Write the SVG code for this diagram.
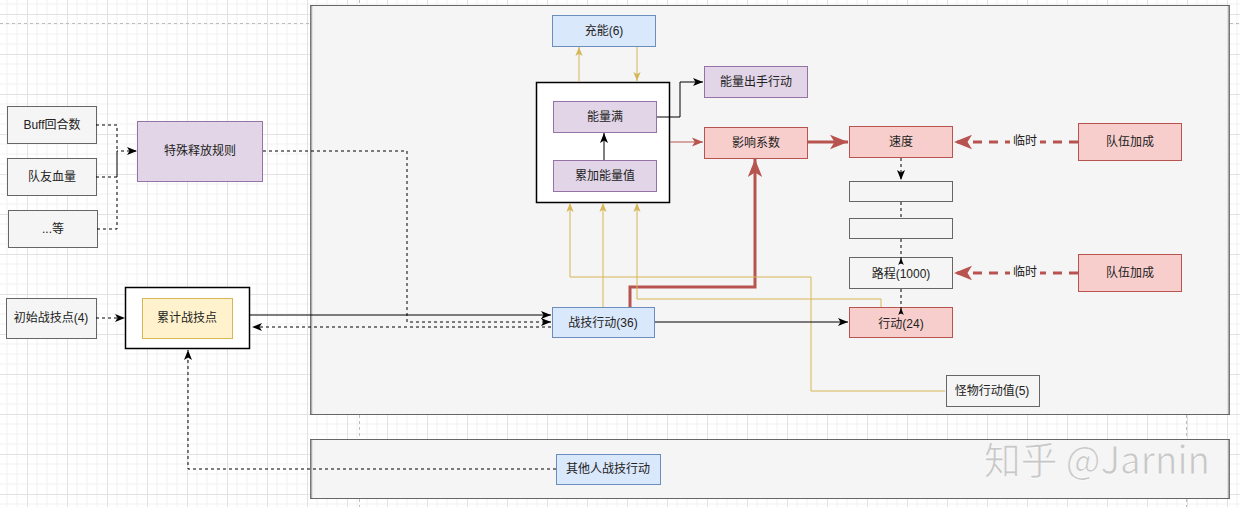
<svg xmlns="http://www.w3.org/2000/svg" width="1240" height="507" viewBox="0 0 1240 507">
<style>
text{font-family:"Liberation Sans","Noto Sans CJK SC",sans-serif;font-size:12px;fill:#222;text-anchor:middle;dominant-baseline:central}
.grey{fill:#f5f5f5;stroke:#666;stroke-width:1}
.purple{fill:#e1d5e7;stroke:#9673a6;stroke-width:1}
.blue{fill:#dae8fc;stroke:#6c8ebf;stroke-width:1}
.red{fill:#f8cecc;stroke:#b85450;stroke-width:1}
.yellow{fill:#fff2cc;stroke:#d6b656;stroke-width:1}
.frame{fill:#fff;stroke:#000;stroke-width:1.5}
.e{fill:none;stroke:#000;stroke-width:1}
.d{stroke-dasharray:3 3}
.y{fill:none;stroke:#d6b656;stroke-width:1}
.r{fill:none;stroke:#b85450}
</style>
<defs>
<pattern id="grid" patternUnits="userSpaceOnUse" x="27" y="14" width="40" height="40">
<path d="M10 0V40M20 0V40M30 0V40M0 10H40M0 20H40M0 30H40" stroke="#f1f1f1" stroke-width="1" fill="none"/>
<path d="M0.5 0V40M0 0.5H40" stroke="#e2e2e2" stroke-width="1" fill="none"/>
</pattern>
<marker id="ab" markerUnits="userSpaceOnUse" markerWidth="10" markerHeight="10" viewBox="0 0 10 10" refX="10" refY="5" orient="auto"><path d="M0,1 L10,5 L0,9 L2.5,5 z" fill="#000"/></marker>
<marker id="abs" markerUnits="userSpaceOnUse" markerWidth="7" markerHeight="7" viewBox="0 0 10 10" refX="10" refY="5" orient="auto"><path d="M0,1 L10,5 L0,9 L2.5,5 z" fill="#000"/></marker>
<marker id="ay" markerUnits="userSpaceOnUse" markerWidth="9" markerHeight="9" viewBox="0 0 10 10" refX="10" refY="5" orient="auto"><path d="M0,1 L10,5 L0,9 L2.5,5 z" fill="#d6b656"/></marker>
<marker id="ar" markerUnits="userSpaceOnUse" markerWidth="11" markerHeight="11" viewBox="0 0 10 10" refX="10" refY="5" orient="auto"><path d="M0,1 L10,5 L0,9 L2.5,5 z" fill="#b85450"/></marker>
<marker id="arb" markerUnits="userSpaceOnUse" markerWidth="18" markerHeight="18" viewBox="0 0 10 10" refX="10" refY="5" orient="auto"><path d="M0,1 L10,5 L0,9 L2.5,5 z" fill="#b85450"/></marker>
</defs>
<rect width="1240" height="507" fill="#fff"/>
<rect width="1240" height="507" fill="url(#grid)"/>
<g id="page-breaks" stroke="#bdbdbd" stroke-width="1" stroke-dasharray="3 3" fill="none">
<path d="M0 23.5H310M1230 23.5H1240"/>
<path d="M359.5 0V5M359.5 415V439M359.5 499V507"/>
<path d="M1186.5 415V439M1186.5 499V507"/>
</g>
<g id="container-main"><rect x="310.5" y="5.5" width="919" height="409" fill="#f5f5f5" stroke="#666"/><path d="M311.5 6V414M1228.5 6V414" stroke="#aaa" stroke-width="1.5"/></g>
<g id="container-bottom"><rect x="310.5" y="439.5" width="919" height="59" fill="#f5f5f5" stroke="#666"/><path d="M311.5 440V498M1228.5 440V498" stroke="#aaa" stroke-width="1.5"/></g>
<g id="watermark"><text x="1097" y="457" style="font-family:'Noto Sans CJK SC','Liberation Sans',sans-serif;font-size:38px;fill:#c8c8c8;stroke:#fff;stroke-width:0.6" textLength="226" lengthAdjust="spacingAndGlyphs">知乎 @Jarnin</text></g>

<g id="n-buff"><rect class="grey" x="7.5" y="106.5" width="89" height="37"/><text x="52" y="125">Buff回合数</text></g>
<g id="n-hp"><rect class="grey" x="7.5" y="158.5" width="89" height="37"/><text x="52" y="177">队友血量</text></g>
<g id="n-etc"><rect class="grey" x="8.5" y="210.5" width="89" height="37"/><text x="53" y="229">...等</text></g>
<g id="n-special"><rect class="purple" x="137.5" y="121.5" width="125" height="60"/><text x="200" y="151">特殊释放规则</text></g>
<g id="n-init"><rect class="grey" x="6.5" y="298.5" width="90" height="40"/><text x="51" y="318">初始战技点(4)</text></g>
<g id="n-acc-frame"><rect class="frame" x="125.5" y="287.5" width="124" height="61"/></g>
<g id="n-acc"><rect class="yellow" x="142.5" y="298.5" width="90" height="40"/><text x="187" y="318">累计战技点</text></g>
<g id="n-others"><rect class="blue" x="556.5" y="454.5" width="104" height="30"/><text x="608" y="469">其他人战技行动</text></g>

<g id="n-charge"><rect class="blue" x="552.5" y="15.5" width="103" height="31"/><text x="604" y="31">充能(6)</text></g>
<g id="n-energy-frame"><rect class="frame" x="536.5" y="82.5" width="133" height="120"/></g>
<g id="n-full"><rect class="purple" x="553.5" y="101.5" width="103" height="31"/><text x="605" y="117">能量满</text></g>
<g id="n-accum"><rect class="purple" x="553.5" y="160.5" width="103" height="31"/><text x="605" y="176">累加能量值</text></g>
<g id="n-energy-act"><rect class="purple" x="704.5" y="66.5" width="103" height="31"/><text x="756" y="82">能量出手行动</text></g>
<g id="n-factor"><rect class="red" x="704.5" y="127.5" width="103" height="31"/><text x="756" y="143">影响系数</text></g>
<g id="n-speed"><rect class="red" x="849.5" y="126.5" width="103" height="31"/><text x="901" y="142">速度</text></g>
<g id="n-blank1"><rect class="grey" x="849.5" y="181.5" width="103" height="20"/></g>
<g id="n-blank2"><rect class="grey" x="849.5" y="218.5" width="103" height="20"/></g>
<g id="n-distance"><rect class="grey" x="849.5" y="257.5" width="103" height="31"/><text x="901" y="274">路程(1000)</text></g>
<g id="n-action"><rect class="red" x="849.5" y="307.5" width="103" height="30"/><text x="901" y="324">行动(24)</text></g>
<g id="n-skill"><rect class="blue" x="552.5" y="307.5" width="102" height="30"/><text x="603" y="323">战技行动(36)</text></g>
<g id="n-team1"><rect class="red" x="1078.5" y="123.5" width="103" height="37"/><text x="1130" y="142">队伍加成</text></g>
<g id="n-team2"><rect class="red" x="1078.5" y="254.5" width="103" height="37"/><text x="1130" y="273">队伍加成</text></g>
<g id="n-monster"><rect class="grey" x="946.5" y="375.5" width="93" height="31"/><text x="992" y="391">怪物行动值(5)</text></g>

<g id="connectors">
<path class="e d" d="M96 125H117V151"/>
<path class="e d" d="M96 177H117V151"/>
<path class="e d" d="M97 229H117V151H137" marker-end="url(#ab)"/>
<path class="e d" d="M263 151H407V322H551" marker-end="url(#ab)"/>
<path class="e d" d="M96 318H125" marker-end="url(#ab)"/>
<path class="e" d="M250 315H551" marker-end="url(#ab)"/>
<path class="e d" d="M551 327H252" marker-end="url(#ab)"/>
<path class="e d" d="M556 469H188V350" marker-end="url(#ab)"/>
<path class="y" d="M579 82V47" marker-end="url(#ay)"/>
<path class="y" d="M637 47V81" marker-end="url(#ay)"/>
<path class="e" d="M604 160V133" marker-end="url(#ab)"/>
<path class="e" d="M657 117H680V82H703" marker-end="url(#ab)"/>
<path class="r" stroke-width="1" d="M670 142H703" marker-end="url(#ar)"/>
<path class="r" stroke-width="3" d="M808 142H848" marker-end="url(#arb)"/>
<path class="r" stroke-width="3" d="M630 307V287H755V159" marker-end="url(#arb)"/>
<path class="y" d="M603 307V203" marker-end="url(#ay)"/>
<path class="y" d="M945 391H811V277H570V203" marker-end="url(#ay)"/>
<path class="y" d="M881 307V299H637V203" marker-end="url(#ay)"/>
<path class="e" d="M655 322H848" marker-end="url(#ab)"/>
<path class="e d" d="M901 158V180" marker-end="url(#ab)"/>
<path class="e d" d="M901 202V218"/>
<path class="e d" d="M901 239V258"/>
<path class="e" d="M901 264V258" marker-end="url(#abs)"/>
<path class="e d" d="M901 289V308"/>
<path class="e" d="M901 314V308" marker-end="url(#abs)"/>
<path class="r" stroke-width="3" stroke-dasharray="9 7" d="M1078 142H954" marker-end="url(#arb)"/>
<path class="r" stroke-width="3" stroke-dasharray="9 7" d="M1078 273H954" marker-end="url(#arb)"/>
<rect x="1010" y="134" width="30" height="16" fill="#f5f5f5"/>
<text x="1025" y="141">临时</text>
<rect x="1010" y="265" width="30" height="16" fill="#f5f5f5"/>
<text x="1025" y="272">临时</text>
</g>
</svg>
